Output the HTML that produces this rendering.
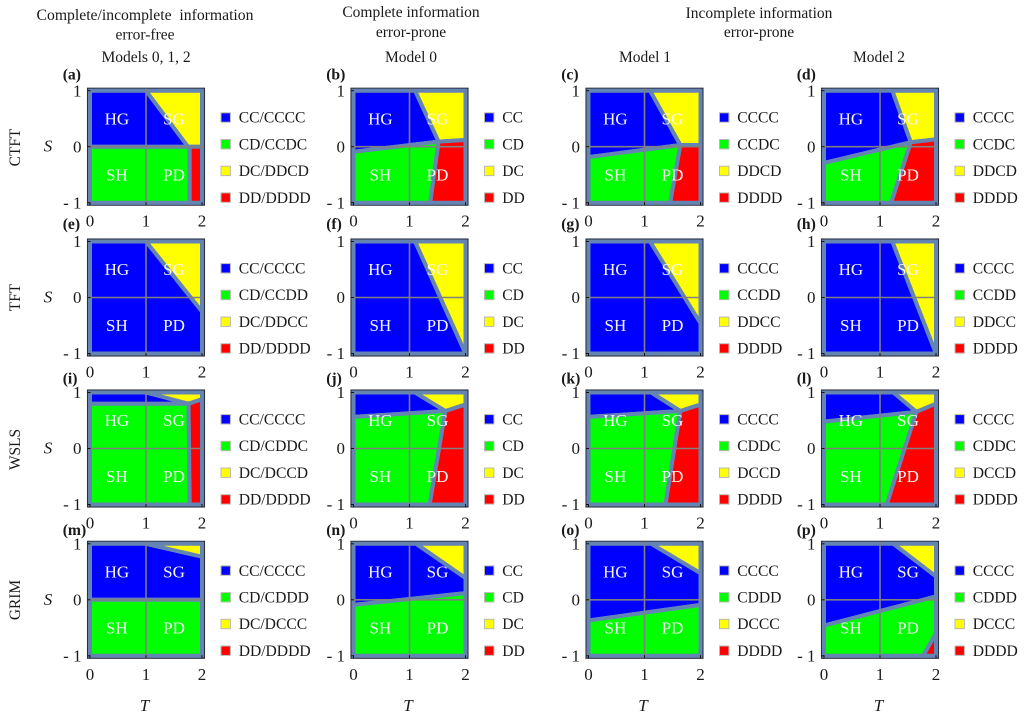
<!DOCTYPE html>
<html lang="en">
<head>
<meta charset="utf-8">
<title>Strategy outcome phase diagrams</title>
<style>
  html, body { margin: 0; padding: 0; background: #fff; }
  svg { display: block; }
  text { font-family: "Liberation Serif", serif; fill: #1a1a1a; }
  .head { font-size: 15.5px; text-anchor: middle; white-space: pre; }
  .head-wide { font-size: 15.7px; }
  .row-label { font-size: 15.4px; text-anchor: middle; }
  .tick { font-size: 17px; }
  .axis-title { font-size: 17px; font-style: italic; text-anchor: middle; }
  .panel-tag { font-size: 15.7px; font-weight: bold; }
  .legend-text { font-size: 15.6px; }
  .quadrant { font-size: 17px; fill: #f6f6f6; text-anchor: middle; }
</style>
</head>
<body>
<svg id="fig" xmlns="http://www.w3.org/2000/svg" width="1024" height="718" viewBox="0 0 1024 718">
  <rect x="0" y="0" width="1024" height="718" fill="#ffffff"/>
  <g>
    <text class="head head-wide" x="145" y="20">Complete/incomplete  information</text>
    <text class="head" x="145" y="39.5">error-free</text>
    <text class="head" x="146" y="62">Models 0, 1, 2</text>
    <text class="head" x="411" y="17">Complete information</text>
    <text class="head" x="411" y="37">error-prone</text>
    <text class="head" x="411" y="62">Model 0</text>
    <text class="head" x="759" y="18">Incomplete information</text>
    <text class="head" x="759" y="37">error-prone</text>
    <text class="head" x="645" y="62">Model 1</text>
    <text class="head" x="879" y="62">Model 2</text>
  </g>
  <g>
    <text class="row-label" transform="translate(20,147.5) rotate(-90)">CTFT</text>
    <text class="row-label" transform="translate(20,297.5) rotate(-90)">TFT</text>
    <text class="row-label" transform="translate(20,449.5) rotate(-90)">WSLS</text>
    <text class="row-label" transform="translate(20,600) rotate(-90)">GRIM</text>
  </g>
  <g id="panels"></g>
</svg>
<script>
// Shared axis values
const tTicks = [0, 1, 2];
const sTicks = [1, 0, -1];
const sTickLabels = ['1', '0', '- 1'];
const quadrantNames = ['HG', 'SG', 'SH', 'PD'];
const quadrantT = [0.48, 1.5, 0.48, 1.5];
const quadrantS = [0.5, 0.5, -0.5, -0.5];
const panelLetters = ['a','b','c','d','e','f','g','h','i','j','k','l','m','n','o','p'];

// Legend entries per panel
const legendA = ['CC/CCCC','CD/CCDC','DC/DDCD','DD/DDDD'];
const legendB = ['CC','CD','DC','DD'];
const legendC = ['CCCC','CCDC','DDCD','DDDD'];
const legendE = ['CC/CCCC','CD/CCDD','DC/DDCC','DD/DDDD'];
const legendG = ['CCCC','CCDD','DDCC','DDDD'];
const legendI = ['CC/CCCC','CD/CDDC','DC/DCCD','DD/DDDD'];
const legendK = ['CCCC','CDDC','DCCD','DDDD'];
const legendM = ['CC/CCCC','CD/CDDD','DC/DCCC','DD/DDDD'];
const legendO = ['CCCC','CDDD','DCCC','DDDD'];
const panelLegends = [legendA, legendB, legendC, legendC,
                      legendE, legendB, legendG, legendG,
                      legendI, legendB, legendK, legendK,
                      legendM, legendB, legendO, legendO];

// Outcome regions per panel, as [T, S] vertices. Order: first, second, third, fourth outcome.
const regionsA = [[[0,1],[1,1],[1.75,0],[0,0]], [[0,0],[1.78,0],[1.78,-1],[0,-1]], [[1,1],[2,1],[2,0],[1.75,0]], [[1.78,0],[2,0],[2,-1],[1.78,-1]]];
const regionsB = [[[0,1],[1.1,1],[1.52,0.09],[0,-0.09]], [[0,-0.09],[1.52,0.09],[1.37,-1],[0,-1]], [[1.1,1],[2,1],[2,0.12],[1.52,0.09]], [[1.52,0.09],[2,0.12],[2,-1],[1.37,-1]]];
const regionsC = [[[0,1],[1.1,1],[1.64,0.03],[0,-0.185]], [[0,-0.185],[1.64,0.03],[1.46,-1],[0,-1]], [[1.1,1],[2,1],[2,0.03],[1.64,0.03]], [[1.64,0.03],[2,0.03],[2,-1],[1.46,-1]]];
const regionsD = [[[0,1],[1.22,1],[1.55,0.08],[0,-0.29]], [[0,-0.29],[1.55,0.08],[1.2,-1],[0,-1]], [[1.22,1],[2,1],[2,0.13],[1.55,0.08]], [[1.55,0.08],[2,0.13],[2,-1],[1.2,-1]]];
const regionsE = [[[0,1],[1,1],[2,-0.25],[2,-1],[0,-1]], [], [[1,1],[2,1],[2,-0.25]], []];
const regionsF = [[[0,1],[1.1,1],[2,-1],[0,-1]], [], [[1.1,1],[2,1],[2,-1]], []];
const regionsG = [[[0,1],[1.1,1],[2,-0.46],[2,-1],[0,-1]], [], [[1.1,1],[2,1],[2,-0.46]], []];
const regionsH = [[[0,1],[1.22,1],[2,-1],[0,-1]], [], [[1.22,1],[2,1],[2,-1]], []];
const regionsI = [[[0,1],[1,1],[1.76,0.8],[0,0.8]], [[0,0.8],[1.76,0.8],[1.78,-1],[0,-1]], [[1,1],[2,1],[2,0.88],[1.76,0.8]], [[1.76,0.8],[2,0.88],[2,-1],[1.78,-1]]];
const regionsJ = [[[0,1],[1.1,1],[1.64,0.67],[0,0.565]], [[0,0.565],[1.64,0.67],[1.36,-1],[0,-1]], [[1.1,1],[2,1],[2,0.785],[1.64,0.67]], [[1.64,0.67],[2,0.785],[2,-1],[1.36,-1]]];
const regionsK = [[[0,1],[1.12,1],[1.64,0.67],[0,0.565]], [[0,0.565],[1.64,0.67],[1.375,-1],[0,-1]], [[1.12,1],[2,1],[2,0.785],[1.64,0.67]], [[1.64,0.67],[2,0.785],[2,-1],[1.375,-1]]];
const regionsL = [[[0,1],[1.24,1],[1.65,0.655],[0,0.48]], [[0,0.48],[1.65,0.655],[1.12,-1],[0,-1]], [[1.24,1],[2,1],[2,0.8],[1.65,0.655]], [[1.65,0.655],[2,0.8],[2,-1],[1.12,-1]]];
const regionsM = [[[0,1],[1,1],[2,0.77],[2,0],[0,0]], [[0,0],[2,0],[2,-1],[0,-1]], [[1,1],[2,1],[2,0.77]], []];
const regionsN = [[[0,1],[1.12,1],[2,0.39],[2,0.12],[0,-0.09]], [[0,-0.09],[2,0.12],[2,-1],[0,-1]], [[1.12,1],[2,1],[2,0.39]], []];
const regionsO = [[[0,1],[1.12,1],[2,0.476],[2,-0.09],[0,-0.37]], [[0,-0.37],[2,-0.09],[2,-1],[0,-1]], [[1.12,1],[2,1],[2,0.476]], []];
const regionsP = [[[0,1],[1.24,1],[2,0.417],[2,0.06],[0,-0.46]], [[0,-0.46],[2,0.06],[2,-0.6],[1.77,-1],[0,-1]], [[1.24,1],[2,1],[2,0.417]], [[2,-0.6],[2,-1],[1.77,-1]]];
const panelRegions = [regionsA, regionsB, regionsC, regionsD,
                      regionsE, regionsF, regionsG, regionsH,
                      regionsI, regionsJ, regionsK, regionsL,
                      regionsM, regionsN, regionsO, regionsP];

// Layout
const columnCenters = [146, 409.5, 644.5, 880];
const rowCenters = [146.7, 297.5, 448.5, 599.8];
const tagOffsets = [-72, -73.5, -70, -70];
const frameHalf = 58.5;
const plotHalf = 56;
const outcomeColors = ['#0000ff', '#00ff00', '#ffff00', '#ff0000'];
const frameFill = '#6484b4';
const NS = 'http://www.w3.org/2000/svg';
const root = document.getElementById('panels');

function make(tag, attrs, parent) {
  const el = document.createElementNS(NS, tag);
  for (const k in attrs) el.setAttribute(k, attrs[k]);
  parent.appendChild(el);
  return el;
}

panelRegions.forEach(function (regions, index) {
  const row = Math.floor(index / 4);
  const col = index % 4;
  const cx = columnCenters[col];
  const cy = rowCenters[row];
  const letter = panelLetters[index];
  const xScale = function (t) { return cx + (t - 1) * plotHalf; };
  const yScale = function (s) { return cy - s * plotHalf; };

  const g = make('g', {}, root);
  
  

  const tag = make('text', { class: 'panel-tag', x: cx - 83.3, y: cy + tagOffsets[row] + 5 }, g);
  
  
  tag.textContent = '(' + letter + ')';

  const frame = make('rect', { x: cx - frameHalf, y: cy - frameHalf, width: frameHalf * 2, height: frameHalf * 2, fill: frameFill, stroke: '#2b2f3a', 'stroke-width': 1.1 }, g);
  
  

  regions.forEach(function (poly, k) {
    if (!poly.length) return;
    const points = poly.map(function (p) { return xScale(p[0]) + ',' + yScale(p[1]); }).join(' ');
    const region = make('polygon', { points: points, fill: outcomeColors[k], stroke: frameFill, 'stroke-width': 4, 'stroke-linejoin': 'round' }, g);
    
    
  });

  const gridV = make('line', { x1: xScale(1), x2: xScale(1), y1: cy - frameHalf + 0.5, y2: cy + frameHalf - 0.5, stroke: '#808080', 'stroke-width': 1.6 }, g);
  
  
  const gridH = make('line', { x1: cx - frameHalf + 0.5, x2: cx + frameHalf - 0.5, y1: yScale(0), y2: yScale(0), stroke: '#808080', 'stroke-width': 1.6 }, g);
  
  

  quadrantNames.forEach(function (name, k) {
    const label = make('text', { class: 'quadrant', x: xScale(quadrantT[k]), y: yScale(quadrantS[k]) + 5.6 }, g);
    
    
    label.textContent = name;
  });

  tTicks.forEach(function (t) {
    const tick = make('text', { class: 'tick', 'text-anchor': 'middle', x: xScale(t), y: cy + 80 }, g);
    
    
    tick.textContent = String(t);
    const mark = make('line', { x1: xScale(t), x2: xScale(t), y1: cy + frameHalf, y2: cy + frameHalf - 3, stroke: '#111111', 'stroke-width': 1 }, g);
    
    
  });
  sTicks.forEach(function (s, k) {
    const tick = make('text', { class: 'tick', 'text-anchor': 'end', x: cx - 64.5, y: yScale(s) + 5.6 }, g);
    
    
    tick.textContent = sTickLabels[k];
    const mark = make('line', { x1: cx - frameHalf, x2: cx - frameHalf + 3, y1: yScale(s), y2: yScale(s), stroke: '#111111', 'stroke-width': 1 }, g);
    
    
  });

  if (col === 0) {
    const sTitle = make('text', { class: 'axis-title', x: cx - 98, y: cy + 5 }, g);
    
    
    sTitle.textContent = 'S';
  }

  if (row === 3) {
    const tTitle = make('text', { class: 'axis-title', x: cx - 1.5, y: cy + 111 }, g);
    
    
    tTitle.textContent = 'T';
  }

  panelLegends[index].forEach(function (entry, k) {
    const ly = cy - 29.2 + k * 26.7;
    const swatch = make('rect', { x: cx + 75, y: ly - 4.7, width: 9.4, height: 9.4, fill: outcomeColors[k], stroke: '#b9b9b0', 'stroke-width': 1 }, g);
    
    
    const text = make('text', { class: 'legend-text', x: cx + 92.7, y: ly + 5.2 }, g);
    
    
    text.textContent = entry;
  });
});
</script>
</body>
</html>
